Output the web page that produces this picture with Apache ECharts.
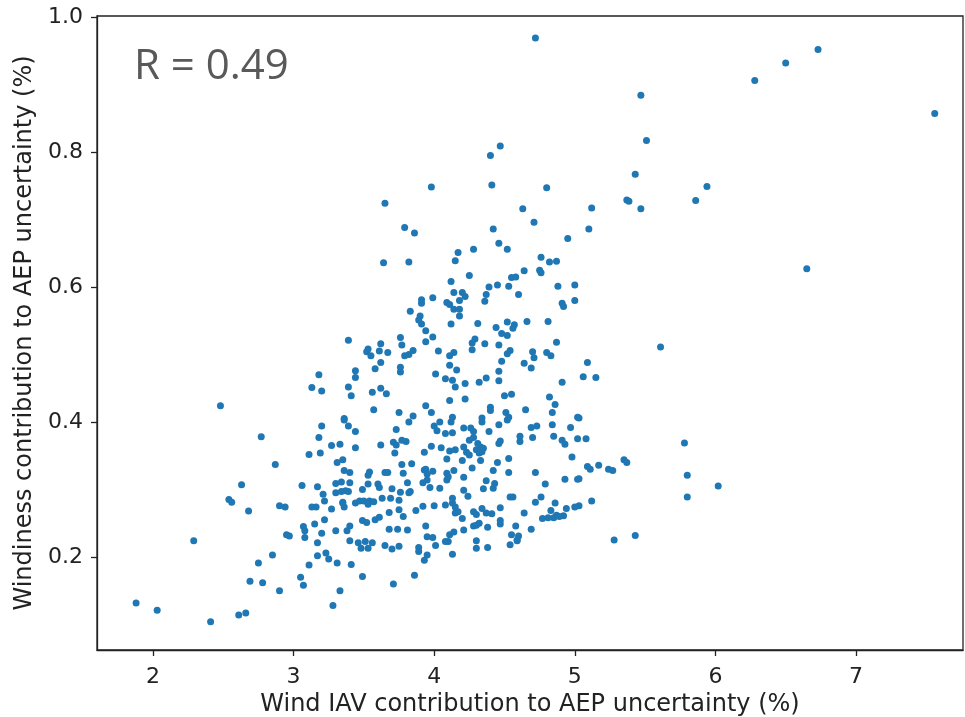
<!DOCTYPE html>
<html>
<head>
<meta charset="utf-8">
<script src="https://cdn.jsdelivr.net/npm/echarts@6/dist/echarts.min.js"></script>
<style>
  html, body { margin: 0; padding: 0; background: #fff; }
  #chart { width: 965px; height: 717px; }
</style>
</head>
<body>
<div id="chart"></div>
<script>
// Wind IAV contribution (%) vs windiness contribution (%)
var windIAV = [
  7.56, 6.73, 6.50, 6.28, 5.47, 5.51, 5.43, 5.94, 5.37, 5.385, 5.86, 5.47, 5.12, 5.10, 6.65, 5.61, 5.09, 5.06, 5.15, 5.03,
  5.08, 5.78, 5.09, 5.11, 5.17, 5.24, 5.27, 5.35, 5.37, 5.80, 6.02, 5.80, 5.12, 5.03, 5.03, 5.43, 5.28, 4.72,
  4.47, 4.40, 3.98, 4.41, 4.80, 3.65, 4.63, 3.79, 3.86, 4.71, 4.42, 4.95, 4.46, 4.52, 4.28, 4.17, 4.15, 3.64, 3.82, 4.76,
  4.82, 4.87, 4.64, 4.75, 4.76, 4.25, 4.12, 4.55, 4.58, 4.39, 4.45, 4.53, 4.88, 5.00,
  5.00, 4.91, 4.92, 4.91, 5.02, 4.97, 4.91, 4.93, 5.02, 4.98, 4.93, 5.02, 4.94, 5.00, 4.92,
  2.48, 2.77, 2.87, 2.63, 2.54, 2.56, 2.68, 2.90, 2.94, 2.95, 2.29, 2.85, 2.75, 2.69, 2.78, 2.90, 1.88, 2.03, 2.41, 2.61, 2.66,
  3.05, 3.07, 3.11, 3.17, 3.23, 3.25, 3.31, 3.28, 3.33, 3.41, 3.49, 3.17, 3.40, 3.46, 3.48, 3.53, 3.56, 3.51, 3.65, 3.70,
  3.75, 3.71, 3.86, 3.89, 3.89, 3.95, 3.93, 4.01, 4.10, 4.13, 4.30, 4.30, 4.38, 4.54, 4.59,
  3.99, 3.91, 3.91, 3.83, 3.90, 3.89, 3.91, 3.94, 3.99, 3.94, 3.39, 3.76, 3.77, 3.62, 3.53, 3.52, 3.55, 3.61, 3.67, 3.85,
  3.82, 3.79, 4.03, 3.62, 3.58, 3.44, 3.44, 3.76, 3.76, 4.01, 3.18, 3.13, 3.20, 3.39, 3.41, 3.56, 3.62, 3.66, 3.57, 3.75,
  3.85, 3.94, 3.98, 3.36,
  4.14, 4.20, 4.22, 4.37, 4.36, 4.60, 4.09, 4.11, 4.18, 4.14, 4.18, 4.18, 4.12, 4.31, 4.52, 4.66, 4.81, 4.44, 4.57, 4.56,
  4.48, 4.52, 4.29, 4.27, 4.36, 4.27, 4.46, 4.87, 4.11, 4.14, 4.54, 4.52, 4.70, 4.71, 4.80, 4.83, 4.48, 4.64, 4.69, 4.11,
  4.16, 4.46, 4.08, 4.13, 4.15, 4.22, 4.32, 4.37, 4.46, 4.11, 4.22, 4.50, 4.55, 4.82, 4.86, 4.40, 4.40, 4.51, 4.65, 4.84,
  4.13, 4.34, 4.53,
  3.20, 3.36, 3.39, 3.44, 3.73, 3.82, 4.00, 4.02, 3.18, 3.27, 3.33, 3.44, 3.62, 3.71, 3.73, 3.77, 3.80, 3.72, 3.98, 3.93,
  3.11, 3.19, 3.31, 3.35, 3.36, 3.40, 3.54, 3.53, 3.65, 3.67, 3.77, 3.78, 3.84, 3.93, 3.94, 3.95, 3.06, 3.17, 3.30, 3.34,
  3.40, 3.30, 3.34, 3.37, 3.39, 3.49, 3.53, 3.60, 3.61, 3.70, 3.81, 3.83, 3.82, 3.92, 3.95, 3.97, 3.76, 3.21, 3.22, 3.35,
  3.44, 3.47, 3.50, 3.54, 3.53, 3.57, 3.63, 3.69, 3.75, 3.92, 3.13, 3.16, 3.27, 3.36, 3.35, 3.68, 3.75, 3.78, 3.87, 4.00,
  3.22, 3.15, 3.07, 3.08, 3.49, 3.52, 3.58, 3.61, 3.40, 3.38, 3.30, 3.20, 3.08, 2.97, 3.68, 3.74, 3.81, 3.94, 3.95, 3.99,
  4.04, 4.08, 4.13, 4.12, 4.21, 4.26, 4.28, 4.28, 4.25, 4.34, 4.39, 4.46, 4.52, 4.69, 4.73, 4.84, 4.61, 4.61, 4.70, 4.85,
  4.05, 4.11, 4.15, 4.09, 4.21, 4.23, 4.25, 4.31, 4.33, 4.35, 4.30, 4.32, 4.34, 4.33, 4.46, 4.47, 4.20, 4.53, 4.45, 4.27,
  4.14, 4.42, 4.53, 4.72, 3.99, 4.09, 4.09, 4.10, 4.21, 4.37, 4.43, 4.42, 4.35, 4.21, 4.24, 4.04, 4.54, 4.56, 4.79, 4.76,
  4.72, 4.86, 4.83, 4.87, 4.81, 4.85, 4.89, 4.77, 4.08, 4.13, 4.13, 4.15, 4.15, 4.20, 4.17, 4.28, 4.34, 4.37, 4.41, 4.47,
  4.47, 4.30, 4.64, 4.28, 4.30, 4.32, 4.38, 4.21, 4.14, 4.11, 4.08, 4.47, 4.58, 4.69, 4.55, 4.60, 4.59
];
var windiness = [
  0.857, 0.952, 0.932, 0.906, 0.884, 0.817, 0.767, 0.749, 0.729, 0.727, 0.728, 0.716, 0.717, 0.686, 0.627, 0.511, 0.488, 0.467, 0.466, 0.406,
  0.375, 0.369, 0.334, 0.330, 0.336, 0.330, 0.328, 0.344, 0.340, 0.321, 0.305, 0.289, 0.283, 0.316, 0.276, 0.232, 0.225, 0.969,
  0.809, 0.795, 0.748, 0.751, 0.747, 0.724, 0.716, 0.688, 0.680, 0.696, 0.686, 0.672, 0.665, 0.656, 0.656, 0.651, 0.639, 0.636, 0.637, 0.644,
  0.637, 0.638, 0.624, 0.625, 0.621, 0.617, 0.608, 0.614, 0.615, 0.600, 0.603, 0.601, 0.601, 0.603,
  0.580, 0.576, 0.571, 0.459, 0.407, 0.392, 0.373, 0.367, 0.375, 0.348, 0.315, 0.315, 0.272, 0.274, 0.261,
  0.424, 0.378, 0.337, 0.307, 0.285, 0.281, 0.268, 0.276, 0.274, 0.233, 0.224, 0.203, 0.191, 0.164, 0.162, 0.150, 0.132, 0.121, 0.104, 0.114, 0.117,
  0.170, 0.158, 0.188, 0.202, 0.206, 0.197, 0.191, 0.128, 0.150, 0.189, 0.171, 0.221, 0.224, 0.221, 0.213, 0.213, 0.221, 0.223, 0.217, 0.212,
  0.216, 0.160, 0.173, 0.214, 0.208, 0.203, 0.195, 0.217, 0.223, 0.204, 0.213, 0.224, 0.214, 0.218, 0.224,
  0.584, 0.581, 0.576, 0.564, 0.557, 0.551, 0.545, 0.535, 0.526, 0.519, 0.521, 0.525, 0.514, 0.516, 0.508, 0.504, 0.498, 0.505, 0.503, 0.506,
  0.500, 0.498, 0.505, 0.488, 0.479, 0.476, 0.466, 0.481, 0.474, 0.471, 0.470, 0.451, 0.446, 0.452, 0.439, 0.444, 0.450, 0.442, 0.418, 0.414,
  0.409, 0.424, 0.414, 0.405,
  0.592, 0.592, 0.586, 0.589, 0.579, 0.589, 0.577, 0.574, 0.580, 0.567, 0.567, 0.557, 0.545, 0.546, 0.548, 0.549, 0.549, 0.540, 0.544, 0.539,
  0.531, 0.528, 0.523, 0.517, 0.516, 0.507, 0.514, 0.518, 0.498, 0.503, 0.506, 0.501, 0.504, 0.495, 0.503, 0.498, 0.490, 0.487, 0.480, 0.484,
  0.477, 0.475, 0.464, 0.462, 0.452, 0.457, 0.459, 0.465, 0.461, 0.432, 0.434, 0.439, 0.441, 0.437, 0.426, 0.422, 0.417, 0.414, 0.418, 0.414,
  0.407, 0.406, 0.407,
  0.394, 0.403, 0.394, 0.386, 0.389, 0.400, 0.394, 0.387, 0.377, 0.365, 0.367, 0.362, 0.366, 0.370, 0.366, 0.373, 0.371, 0.354, 0.364, 0.355,
  0.352, 0.354, 0.340, 0.344, 0.328, 0.325, 0.326, 0.321, 0.325, 0.325, 0.337, 0.324, 0.338, 0.329, 0.330, 0.323, 0.306, 0.304, 0.309, 0.311,
  0.310, 0.295, 0.297, 0.298, 0.297, 0.300, 0.308, 0.308, 0.303, 0.301, 0.310, 0.297, 0.295, 0.310, 0.314, 0.303, 0.296, 0.293, 0.283, 0.281,
  0.280, 0.283, 0.283, 0.283, 0.278, 0.282, 0.287, 0.287, 0.284, 0.275, 0.274, 0.274, 0.271, 0.274, 0.280, 0.266, 0.270, 0.260, 0.269, 0.276,
  0.255, 0.249, 0.245, 0.239, 0.254, 0.251, 0.255, 0.259, 0.246, 0.239, 0.239, 0.235, 0.229, 0.231, 0.241, 0.241, 0.240, 0.246, 0.230, 0.229,
  0.400, 0.383, 0.384, 0.400, 0.391, 0.391, 0.386, 0.377, 0.373, 0.400, 0.386, 0.396, 0.403, 0.392, 0.394, 0.396, 0.379, 0.371, 0.377, 0.379,
  0.362, 0.357, 0.359, 0.345, 0.363, 0.355, 0.351, 0.368, 0.363, 0.361, 0.359, 0.354, 0.356, 0.343, 0.368, 0.372, 0.343, 0.346, 0.340, 0.332,
  0.328, 0.328, 0.325, 0.325, 0.327, 0.324, 0.314, 0.319, 0.318, 0.313, 0.309, 0.302, 0.301, 0.299, 0.290, 0.302, 0.289, 0.289, 0.308, 0.289,
  0.281, 0.280, 0.269, 0.262, 0.258, 0.258, 0.260, 0.257, 0.277, 0.287, 0.280, 0.274, 0.265, 0.257, 0.267, 0.267, 0.272, 0.265, 0.264, 0.273,
  0.254, 0.263, 0.265, 0.246, 0.247, 0.250, 0.244, 0.240, 0.237, 0.233, 0.223, 0.249, 0.246, 0.241, 0.233, 0.231, 0.225
];
var xTicks = [2, 3, 4, 5, 6, 7];
var yTicks = [0.2, 0.4, 0.6, 0.8, 1.0];
var xTitle = 'Wind IAV contribution to AEP uncertainty (%)';
var yTitle = 'Windiness contribution to AEP uncertainty (%)';
var rLabel = 'R = 0.49';

var points = windIAV.map(function (x, i) { return [x, windiness[i]]; });

var font = '"DejaVu Sans", sans-serif';
var chart = echarts.init(document.getElementById('chart'));
chart.setOption({
  animation: false,
  backgroundColor: '#fff',
  grid: {
    left: 97,
    right: 2,
    top: 16,
    bottom: 67,
    outerBoundsMode: 'none',
    show: true,
    borderColor: '#222',
    borderWidth: 1.3
  },
  xAxis: {
    type: 'value',
    min: 1.602,
    max: 7.761,
    name: xTitle,
    nameLocation: 'middle',
    nameGap: 42,
    nameTextStyle: { fontSize: 24, fontFamily: font, color: '#222' },
    splitLine: { show: false },
    axisLine: { lineStyle: { color: '#222', width: 1.3 } },
    axisTick: { customValues: xTicks, length: 6, lineStyle: { color: '#222', width: 1.3 } },
    axisLabel: { customValues: xTicks, fontSize: 22, fontFamily: font, color: '#222', margin: 16 }
  },
  yAxis: {
    type: 'value',
    min: 0.0622,
    max: 1.0015,
    name: yTitle,
    nameLocation: 'middle',
    nameGap: 58,
    nameTextStyle: { fontSize: 24, fontFamily: font, color: '#222' },
    splitLine: { show: false },
    axisLine: { show: true, lineStyle: { color: '#222', width: 1.3 } },
    axisTick: { customValues: yTicks, length: 6, lineStyle: { color: '#222', width: 1.3 } },
    axisLabel: {
      customValues: yTicks,
      fontSize: 22,
      fontFamily: font,
      color: '#222',
      margin: 14,
      formatter: function (v) { return v.toFixed(1); }
    }
  },
  graphic: [{
    type: 'text',
    left: 134,
    top: 46,
    style: {
      text: rLabel,
      fontSize: 42,
      fontFamily: '"Open Sans", sans-serif',
      fill: '#595959'
    }
  }],
  series: [{
    type: 'scatter',
    data: points,
    symbol: 'circle',
    symbolSize: 7,
    itemStyle: { color: '#1f77b4', opacity: 1 }
  }]
});
</script>
</body>
</html>
